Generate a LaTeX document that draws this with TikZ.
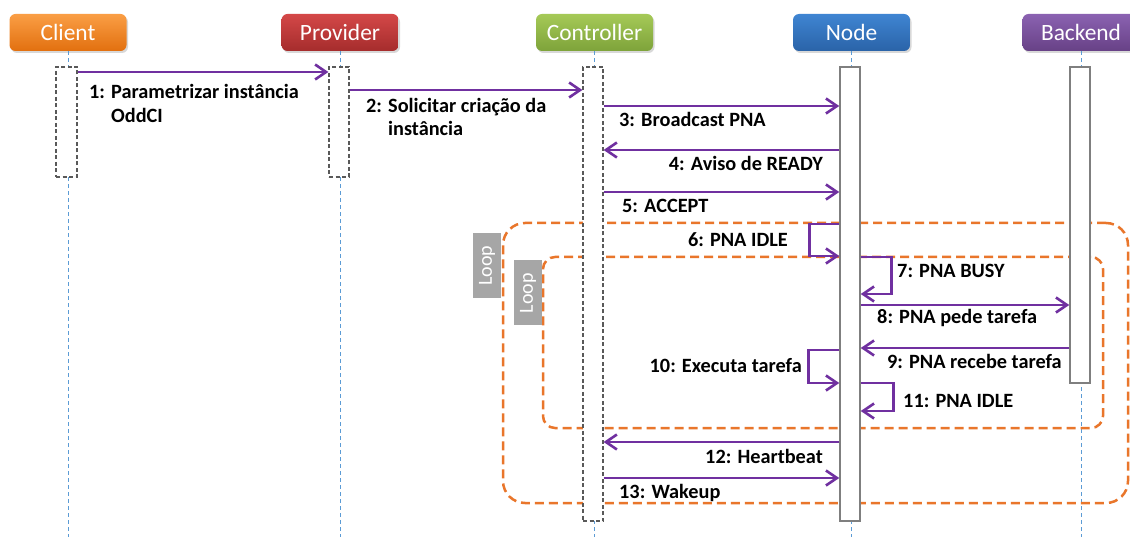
\documentclass[tikz,border=0pt]{standalone}
\usepackage{fontspec}
\setmainfont{Carlito}
\usetikzlibrary{arrows.meta,shadows}
\definecolor{msgc}{HTML}{7030A0}
\definecolor{lifec}{HTML}{5B9BD5}
\definecolor{actc}{HTML}{595959}
\definecolor{acts}{HTML}{7F7F7F}
\definecolor{loopc}{HTML}{E9762B}
\definecolor{tagc}{HTML}{A6A6A6}
\definecolor{clientT}{HTML}{FA9E45}
\definecolor{clientB}{HTML}{E2700F}
\definecolor{provT}{HTML}{D44848}
\definecolor{provB}{HTML}{A52C2C}
\definecolor{ctrlT}{HTML}{A5C957}
\definecolor{ctrlB}{HTML}{7EA33A}
\definecolor{nodeT}{HTML}{3F85D2}
\definecolor{nodeB}{HTML}{2A63A8}
\definecolor{backT}{HTML}{8B62B1}
\definecolor{backB}{HTML}{674186}
\begin{document}
\begin{tikzpicture}[x=1pt,y=-1pt,
  hdr/.style={rounded corners=6pt, minimum width=117pt, minimum height=37pt, text=white,
    font=\fontsize{23.4}{28}\selectfont, inner sep=0pt,
    drop shadow={opacity=0.3,shadow xshift=1.5pt,shadow yshift=-2pt}},
  life/.style={draw=lifec, line width=0.9pt, dash pattern=on 4pt off 3pt},
  actd/.style={draw=actc, fill=white, line width=1.2pt, dash pattern=on 4pt off 2.5pt,
    inner sep=0pt, minimum width=20pt},
  actsolid/.style={draw=acts, fill=white, line width=1.5pt, inner sep=0pt, minimum width=20pt},
  msg/.style={draw=msgc, line width=2.6pt, -{Straight Barb[length=11pt,width=15pt]}},
  lbl/.style={font=\bfseries\fontsize{20.3}{23.5}\selectfont, inner sep=0pt, align=left},
  loopf/.style={draw=loopc, line width=2.5pt, dash pattern=on 9pt off 5pt, inner sep=0pt},
  looptag/.style={fill=tagc, text=white, rotate=90, font=\fontsize{20}{22}\selectfont,
    inner sep=0pt, minimum width=65pt, minimum height=28pt}
]
\useasboundingbox (0,0) rectangle (1130,537);
\fill[white] (0,0) rectangle (1130,537);

% headers
\node[hdr, top color=clientT, bottom color=clientB] (client) at (68,32.5) {Client};
\node[hdr, top color=provT, bottom color=provB] (prov) at (340,32.5) {Provider};
\node[hdr, top color=ctrlT, bottom color=ctrlB] (ctrl) at (594.5,32.5) {Controller};
\node[hdr, top color=nodeT, bottom color=nodeB] (nd) at (851.5,32.5) {Node};
\node[hdr, top color=backT, bottom color=backB] (back) at (1081,32.5) {Backend};

% lifelines
\coordinate (clientEnd) at (68,537);
\coordinate (provEnd) at (340,537);
\coordinate (ctrlEnd) at (594,537);
\coordinate (ndEnd) at (851,537);
\coordinate (backEnd) at (1081,537);
\draw[life] (client.south -| clientEnd) -- (clientEnd);
\draw[life] (prov.south -| provEnd) -- (provEnd);
\draw[life] (ctrl.south -| ctrlEnd) -- (ctrlEnd);
\draw[life] (nd.south -| ndEnd) -- (ndEnd);
\draw[life] (back.south -| backEnd) -- (backEnd);

% loop frames
\node[loopf, rounded corners=22pt, minimum width=625pt, minimum height=280pt] (loopA) at (815.5,363) {};
\node[loopf, rounded corners=12pt, minimum width=560pt, minimum height=171pt] (loopB) at (823,342.5) {};
\node[looptag] (tagA) at (487,265.5) {Loop};
\node[looptag] (tagB) at (528,293) {Loop};

% activation boxes
\node[actd, minimum width=21pt, minimum height=110pt] (cA) at (66.5,122) {};
\node[actd, minimum height=110pt] (pA) at (339,122) {};
\node[actd, minimum height=454pt] (kA) at (593,294) {};
\node[actsolid, minimum height=454pt] (nA) at (850,294) {};
\node[actsolid, minimum height=316pt] (bA) at (1080,225) {};

% messages
\draw[msg] (cA.east |- 0,72) -- (pA.west |- 0,72);
\node[lbl, anchor=base west] (l1) at (89,122.5) {1: Parametrizar instância\\\hspace*{22pt}OddCI};

\draw[msg] (pA.east |- 0,90) -- (kA.west |- 0,90);
\node[lbl, anchor=base west] (l2) at (366,136) {2: Solicitar criação da\\\hspace*{22pt}instância};

\draw[msg] (kA.east |- 0,106) -- (nA.west |- 0,106);
\node[lbl, anchor=base west] (l3) at (619,127) {3: Broadcast PNA};

\draw[msg] (nA.west |- 0,150) -- (kA.east |- 0,150);
\node[lbl, anchor=base east] (l4) at (823,171) {4: Aviso de READY};

\draw[msg] (kA.east |- 0,192) -- (nA.west |- 0,192);
\node[lbl, anchor=base west] (l5) at (622,213) {5: ACCEPT};

\draw[msg] (nA.west |- 0,224) -- ++(-30,0) -- ++(0,32) -- (nA.west |- 0,256);
\node[lbl, anchor=base east] (l6) at (788,247) {6: PNA IDLE};

\draw[msg] (nA.east |- 0,257) -- ++(31,0) -- ++(0,37) -- (nA.east |- 0,294);
\node[lbl, anchor=base west] (l7) at (897,278) {7: PNA BUSY};

\draw[msg] (nA.east |- 0,305) -- (bA.west |- 0,305);
\node[lbl, anchor=base west] (l8) at (877,324) {8: PNA pede tarefa};

\draw[msg] (bA.west |- 0,348) -- (nA.east |- 0,348);
\node[lbl, anchor=base east] (l9) at (1062,368) {9: PNA recebe tarefa};

\draw[msg] (nA.west |- 0,350) -- ++(-31,0) -- ++(0,33) -- (nA.west |- 0,383);
\node[lbl, anchor=base east] (l10) at (802,372) {10: Executa tarefa};

\draw[msg] (nA.east |- 0,383) -- ++(33,0) -- ++(0,28) -- (nA.east |- 0,411);
\node[lbl, anchor=base west] (l11) at (903,407) {11: PNA IDLE};

\draw[msg] (nA.west |- 0,442) -- (kA.east |- 0,442);
\node[lbl, anchor=base east] (l12) at (823,463) {12: Heartbeat};

\draw[msg] (kA.east |- 0,478) -- (nA.west |- 0,478);
\node[lbl, anchor=base west] (l13) at (619,498) {13: Wakeup};
\end{tikzpicture}
\end{document}
